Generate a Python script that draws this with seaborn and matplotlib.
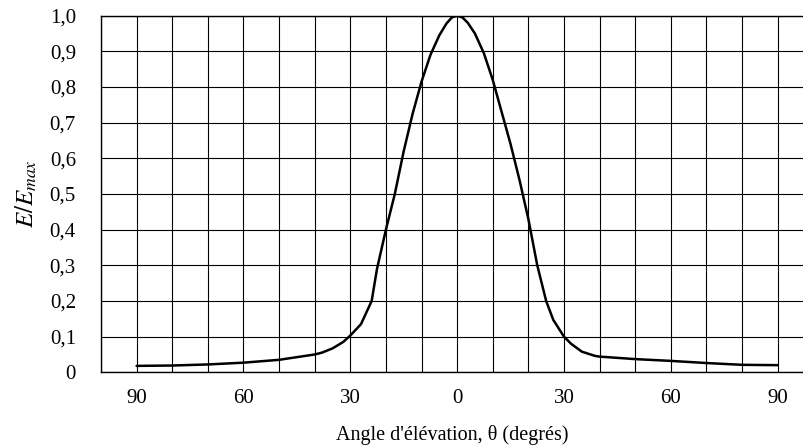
#!/usr/bin/env python3

import pandas as pd
import seaborn as sns
import matplotlib.pyplot as plt
from matplotlib.ticker import MultipleLocator, FixedLocator, FuncFormatter

# angle (degrees) and normalised field E/Emax
angle = [-90, -80, -70, -60, -50, -40, -38, -35, -32, -30, -27, -24, -22.5, -20,
         -17.5, -15, -12.5, -10, -7.5, -5, -3, -1.5, 0,
         1.5, 3, 5, 7.5, 10, 12.5, 15, 17.5, 20, 22.5, 25, 27, 30, 32, 35, 38.7,
         40, 50, 60, 70, 80, 90]
e_ratio = [0.018, 0.019, 0.022, 0.027, 0.035, 0.050, 0.055, 0.067, 0.085, 0.103, 0.135, 0.20, 0.29, 0.40,
           0.50, 0.62, 0.725, 0.815, 0.89, 0.945, 0.978, 0.995, 1.0,
           0.995, 0.98, 0.95, 0.895, 0.82, 0.73, 0.64, 0.54, 0.43, 0.30, 0.20, 0.147, 0.10, 0.08, 0.058, 0.046,
           0.044, 0.037, 0.032, 0.026, 0.021, 0.020]

x_major = [-90, -60, -30, 0, 30, 60, 90]

df = pd.DataFrame({'angle': angle, 'E': e_ratio})

sns.set_theme(style='white')
plt.rcParams['font.family'] = ['Liberation Serif', 'DejaVu Serif']
plt.rcParams['mathtext.fontset'] = 'stix'

fig = plt.figure(figsize=(8.04, 4.47), dpi=100)
ax = fig.add_axes([101 / 804, 1 - 372.3 / 447, 1 - 101 / 804, (372.3 - 15.7) / 447])

sns.lineplot(data=df, x='angle', y='E', color='black', linewidth=1.8, ax=ax)

ax.set_xlim(-100, 97.4)
ax.set_ylim(0, 1.0)

ax.xaxis.set_major_locator(FixedLocator(x_major))
ax.xaxis.set_minor_locator(MultipleLocator(10))
ax.xaxis.set_major_formatter(FuncFormatter(lambda v, p: f'{abs(int(round(v)))}'))
ax.yaxis.set_major_locator(MultipleLocator(0.1))
ax.yaxis.set_major_formatter(FuncFormatter(
    lambda v, p: '0' if abs(v) < 1e-9 else f'{v:.1f}'.replace('.', ',')))

ax.grid(True, which='both', color='black', linewidth=0.8)
ax.set_axisbelow(True)
ax.tick_params(axis='both', which='both', length=0, labelsize=15, colors='black')
ax.tick_params(axis='x', pad=12)
ax.tick_params(axis='y', pad=18)

for side in ['left', 'bottom', 'top']:
    ax.spines[side].set_color('black')
    ax.spines[side].set_linewidth(1.0)
ax.spines['right'].set_visible(False)

ax.set_xlabel("Angle d'élévation, θ (degrés)", fontsize=14.5, color='black', labelpad=12)
ax.set_ylabel(r'$E/E_{max}$', fontsize=18, color='black', labelpad=8)

plt.savefig('out.png', dpi=100)
plt.close()
